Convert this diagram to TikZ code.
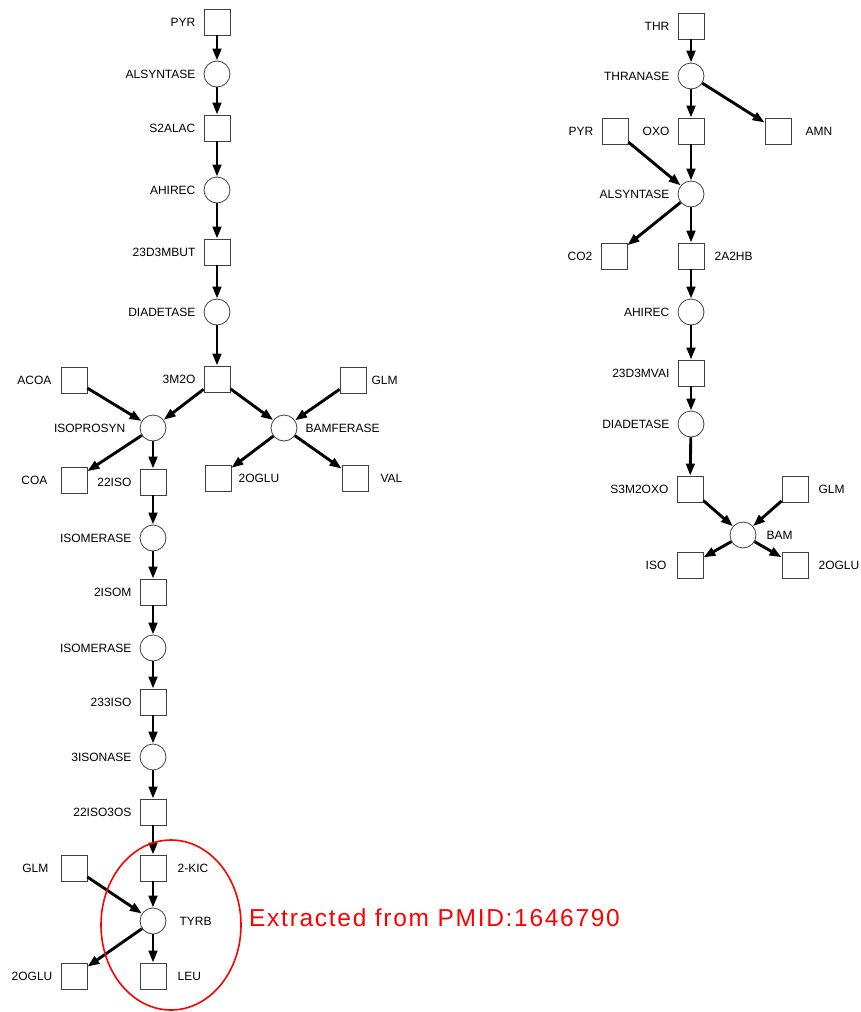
\documentclass[tikz,border=0pt]{standalone}
\usepackage{fontspec}
\setmainfont{Liberation Sans}
\usetikzlibrary{arrows.meta,shapes.geometric}
\begin{document}
\begin{tikzpicture}[x=1pt,y=-1pt,
  sq/.style={draw=black!75,line width=0.8pt,fill=white,minimum size=26pt,inner sep=0pt},
  ci/.style={draw=black!75,line width=0.8pt,fill=white,circle,minimum size=26pt,inner sep=0pt},
  lab/.style={font=\fontsize{12}{14}\selectfont,inner sep=0pt},
  every label/.style={lab},
  label distance=8pt,
  ar/.style={line width=2.9pt,-{Triangle[length=12pt,width=8.5pt]}}]
\useasboundingbox (0,0) rectangle (861,1012);
% left column
\node[sq,label=left:PYR] (pyr) at (217,22) {};
\node[ci,label=left:ALSYNTASE] (als) at (217,74) {};
\node[sq,label=left:S2ALAC] (s2alac) at (217,128) {};
\node[ci,label=left:AHIREC] (ahirec) at (217,190) {};
\node[sq,label=left:23D3MBUT] (mbut) at (217,252) {};
\node[ci,label=left:DIADETASE] (diad) at (217,312) {};
\node[sq,label=left:3M2O] (m2o) at (217,379) {};
\node[sq,label={[label distance=9pt]left:ACOA}] (acoa) at (74,380) {};
\node[sq,label={[label distance=5pt]right:GLM}] (glm1) at (353,380) {};
\node[ci,label={[label distance=14pt]left:ISOPROSYN}] (isop) at (153,428) {};
\node[ci,label={[label distance=8pt]right:BAMFERASE}] (bamf) at (284,428) {};
\node[sq,label={[label distance=13pt]left:COA}] (coa) at (74,480) {};
\node[sq,label=left:22ISO] (iso22) at (153,482) {};
\node[sq,label={[label distance=7pt]right:2OGLU}] (oglu1) at (218,478) {};
\node[sq,label={[label distance=12pt]right:VAL}] (val) at (355,478) {};
\node[ci,label=left:ISOMERASE] (isom1) at (153,538) {};
\node[sq,label=left:2ISOM] (isom2) at (153,592) {};
\node[ci,label=left:ISOMERASE] (isom3) at (153,648) {};
\node[sq,label=left:233ISO] (iso233) at (153,702) {};
\node[ci,label=left:3ISONASE] (isonase) at (153,757) {};
\node[sq,label=left:22ISO3OS] (iso3os) at (153,812) {};
\node[sq,label={[label distance=11pt]right:2-KIC}] (kic) at (153,868) {};
\node[sq,label={[label distance=12pt]left:GLM}] (glm2) at (74,868) {};
\node[ci,label={[label distance=13pt]right:TYRB}] (tyrb) at (153,921) {};
\node[sq,label=left:2OGLU] (oglu2) at (74,976) {};
\node[sq,label={[label distance=11pt]right:LEU}] (leu) at (153,976) {};
\draw[ar] (pyr) -- (als);
\draw[ar] (als) -- (s2alac);
\draw[ar] (s2alac) -- (ahirec);
\draw[ar] (ahirec) -- (mbut);
\draw[ar] (mbut) -- (diad);
\draw[ar] (diad) -- (m2o);
\draw[ar] (m2o) -- (isop);
\draw[ar] (acoa) -- (isop);
\draw[ar] (m2o) -- (bamf);
\draw[ar] (glm1) -- (bamf);
\draw[ar] (isop) -- (coa);
\draw[ar] (isop) -- (iso22);
\draw[ar] (bamf) -- (oglu1);
\draw[ar] (bamf) -- (val);
\draw[ar] (iso22) -- (isom1);
\draw[ar] (isom1) -- (isom2);
\draw[ar] (isom2) -- (isom3);
\draw[ar] (isom3) -- (iso233);
\draw[ar] (iso233) -- (isonase);
\draw[ar] (isonase) -- (iso3os);
\draw[ar] (iso3os) -- (kic);
\draw[ar] (kic) -- (tyrb);
\draw[ar] (glm2) -- (tyrb);
\draw[ar] (tyrb) -- (oglu2);
\draw[ar] (tyrb) -- (leu);
% right column
\node[sq,label=left:THR] (thr) at (691,26) {};
\node[ci,label=left:THRANASE] (thra) at (691,76) {};
\node[sq,label=left:OXO] (oxo) at (691,131) {};
\node[sq,label={[label distance=14pt]right:AMN}] (amn) at (778,131) {};
\node[sq,label=left:PYR] (pyr2) at (615,131) {};
\node[ci,label=left:ALSYNTASE] (als2) at (691,194) {};
\node[sq,label=left:CO2] (co2) at (614,256) {};
\node[sq,label={[label distance=10pt]right:2A2HB}] (a2hb) at (691,256) {};
\node[ci,label=left:AHIREC] (ahirec2) at (691,312) {};
\node[sq,label=left:23D3MVAI] (mvai) at (691,373) {};
\node[ci,label=left:DIADETASE] (diad2) at (691,424) {};
\node[sq,label=left:S3M2OXO] (s3m) at (690,489) {};
\node[sq,label={[label distance=10pt]right:GLM}] (glm3) at (795,489) {};
\node[ci,label={[label distance=10pt]right:BAM}] (bam) at (743,535) {};
\node[sq,label={[label distance=10pt]left:ISO}] (iso) at (690,565) {};
\node[sq,label={[label distance=10pt]right:2OGLU}] (oglu3) at (795,565) {};
\draw[ar] (thr) -- (thra);
\draw[ar] (thra) -- (oxo);
\draw[ar] (thra) -- (amn);
\draw[ar] (oxo) -- (als2);
\draw[ar] (pyr2) -- (als2);
\draw[ar] (als2) -- (co2);
\draw[ar] (als2) -- (a2hb);
\draw[ar] (a2hb) -- (ahirec2);
\draw[ar] (ahirec2) -- (mvai);
\draw[ar] (mvai) -- (diad2);
\draw[ar] (diad2) -- (s3m);
\draw[ar] (s3m) -- (bam);
\draw[ar] (glm3) -- (bam);
\draw[ar] (bam) -- (iso);
\draw[ar] (bam) -- (oglu3);
% highlight
\node[draw=red,line width=1.6pt,ellipse,minimum width=140pt,minimum height=170pt,inner sep=0pt] (hl) at (171,925) {};
\node[anchor=west,text=red,font=\fontsize{24.5}{28}\selectfont\addfontfeature{LetterSpace=7},inner sep=0pt] (ext) at (249,918) {Extracted from PMID:1646790};
\end{tikzpicture}
\end{document}
